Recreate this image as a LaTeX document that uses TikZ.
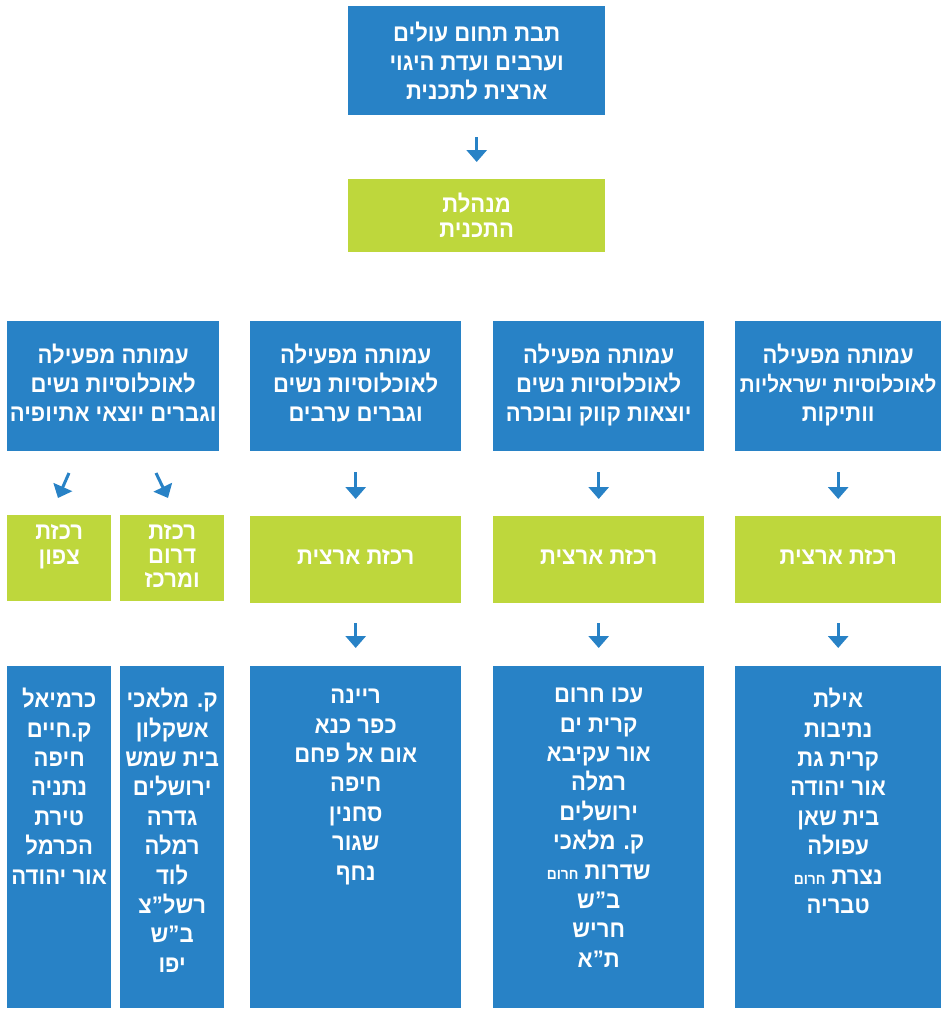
\documentclass[tikz,border=0pt]{standalone}
\usepackage{fontspec}
\newfontfamily\heb[Script=Hebrew,FakeStretch=0.92]{Liberation Sans}
\TeXXeTstate=1
\usetikzlibrary{arrows.meta}
\definecolor{cblue}{RGB}{40,130,198}
\definecolor{cgreen}{RGB}{190,215,60}
\newcommand{\hl}[1]{\beginR #1\endR}
\newcommand{\smw}[1]{{\fontsize{15}{15}\selectfont #1}}
\begin{document}
\begin{tikzpicture}[x=1pt,y=-1pt,
  base/.style={inner sep=0pt, anchor=north west, text=white, align=center,
    font=\heb\bfseries\fontsize{24}{29}\selectfont},
  bbox/.style={base, fill=cblue},
  gbox/.style={base, fill=cgreen},
  list/.style={inner sep=0pt, anchor=north, text=white, align=center,
    font=\heb\bfseries\fontsize{24}{29.4}\selectfont},
  arr/.style={draw=cblue, line width=3pt, -{Triangle[width=20pt,length=12pt]}},
]
\useasboundingbox (0,0) rectangle (941,1009);
\clip (0,0) rectangle (941,1009);

% top
\node[bbox, minimum width=257pt, minimum height=109pt] (top) at (348,6)
  {\hl{תבת תחום עולים}\\\hl{וערבים ועדת היגוי}\\\hl{ארצית לתכנית}};
\node[gbox, minimum width=257pt, minimum height=73pt,
  font=\heb\bfseries\fontsize{24}{25}\selectfont] (mng) at (348,179)
  {\hl{מנהלת}\\\hl{התכנית}};
\draw[arr, shorten <=22pt, shorten >=17pt] (top.south) -- (mng.north);

% headers
\node[bbox, minimum width=212pt, minimum height=130pt, text depth=6pt] (h1) at (7,321)
  {\hl{עמותה מפעילה}\\\hl{לאוכלוסיות נשים}\\\hl{וגברים יוצאי אתיופיה}};
\node[bbox, minimum width=211pt, minimum height=130pt, text depth=6pt] (h2) at (250,321)
  {\hl{עמותה מפעילה}\\\hl{לאוכלוסיות נשים}\\\hl{וגברים ערבים}};
\node[bbox, minimum width=211pt, minimum height=130pt, text depth=6pt] (h3) at (493,321)
  {\hl{עמותה מפעילה}\\\hl{לאוכלוסיות נשים}\\\hl{יוצאות קווק ובוכרה}};
\node[bbox, minimum width=206pt, minimum height=130pt, text depth=6pt] (h4) at (735,321)
  {\hl{עמותה מפעילה}\\{\fontsize{22.5}{29}\selectfont\hl{לאוכלוסיות ישראליות}}\\\hl{וותיקות}};

% green coordinators
\node[gbox, minimum width=104pt, minimum height=86pt] (g1a) at (7,515) {};
\node[base, anchor=north, font=\heb\bfseries\fontsize{24}{25}\selectfont] (t1a) at ([yshift=-9pt]g1a.north)
  {\hl{רכזת}\\\hl{צפון}};
\node[gbox, minimum width=104pt, minimum height=86pt] (g1b) at (120,515) {};
\node[base, anchor=north, font=\heb\bfseries\fontsize{24}{24}\selectfont] (t1b) at ([yshift=-9pt]g1b.north)
  {\hl{רכזת}\\\hl{דרום}\\\hl{ומרכז}};
\node[gbox, minimum width=211pt, minimum height=87pt, text depth=5pt] (g2) at (250,516) {\hl{רכזת ארצית}};
\node[gbox, minimum width=211pt, minimum height=87pt, text depth=5pt] (g3) at (493,516) {\hl{רכזת ארצית}};
\node[gbox, minimum width=206pt, minimum height=87pt, text depth=5pt] (g4) at (735,516) {\hl{רכזת ארצית}};

% arrows header -> green
\coordinate (a1s) at (69,473);
\coordinate (a1e) at (58,498);
\coordinate (a2s) at (156,473);
\coordinate (a2e) at (168,498);
\draw[arr] (a1s) -- (a1e);
\draw[arr] (a2s) -- (a2e);
\draw[arr, shorten <=21pt, shorten >=17pt] (h2.south) -- (g2.north);
\draw[arr, shorten <=21pt, shorten >=17pt] (h3.south) -- (g3.north);
\draw[arr, shorten <=21pt, shorten >=17pt] (h4.south) -- (g4.north);

% bottom boxes
\node[bbox, minimum width=104pt, minimum height=342pt] (b1a) at (7,666) {};
\node[bbox, minimum width=104pt, minimum height=342pt] (b1b) at (120,666) {};
\node[bbox, minimum width=211pt, minimum height=342pt] (b2) at (250,666) {};
\node[bbox, minimum width=211pt, minimum height=342pt] (b3) at (493,666) {};
\node[bbox, minimum width=206pt, minimum height=342pt] (b4) at (735,666) {};

\draw[arr, shorten <=20pt, shorten >=18pt] (g2.south) -- (b2.north);
\draw[arr, shorten <=20pt, shorten >=18pt] (g3.south) -- (b3.north);
\draw[arr, shorten <=20pt, shorten >=18pt] (g4.south) -- (b4.north);

\node[list] (l1a) at ([yshift=-22pt]b1a.north)
  {\hl{כרמיאל}\\\hl{ק.חיים}\\\hl{חיפה}\\\hl{נתניה}\\\hl{טירת}\\\hl{הכרמל}\\\hl{אור יהודה}};
\node[list] (l1b) at ([yshift=-22pt]b1b.north)
  {\hl{ק. מלאכי}\\\hl{אשקלון}\\\hl{בית שמש}\\\hl{ירושלים}\\\hl{גדרה}\\\hl{רמלה}\\\hl{לוד}\\\hl{רשל”צ}\\\hl{ב”ש}\\\hl{יפו}};
\node[list] (l2) at ([yshift=-23pt]b2.north)
  {\hl{ריינה}\\\hl{כפר כנא}\\\hl{אום אל פחם}\\\hl{חיפה}\\\hl{סחנין}\\\hl{שגור}\\\hl{נחף}};
\node[list] (l3) at ([yshift=-22pt]b3.north)
  {\hl{עכו חרום}\\\hl{קרית ים}\\\hl{אור עקיבא}\\\hl{רמלה}\\\hl{ירושלים}\\\hl{ק. מלאכי}\\\hl{שדרות \smw{חרום}}\\\hl{ב”ש}\\\hl{חריש}\\\hl{ת”א}};
\node[list] (l4) at ([yshift=-22pt]b4.north)
  {\hl{אילת}\\\hl{נתיבות}\\\hl{קרית גת}\\\hl{אור יהודה}\\\hl{בית שאן}\\\hl{עפולה}\\\hl{נצרת \smw{חרום}}\\\hl{טבריה}};
\end{tikzpicture}
\end{document}
